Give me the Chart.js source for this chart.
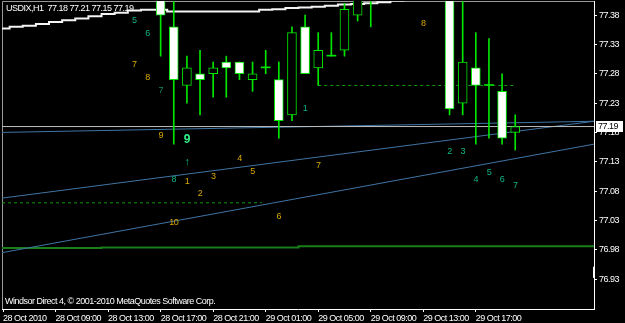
<!DOCTYPE html>
<html>
<head>
<meta charset="utf-8">
<script src="https://cdn.jsdelivr.net/npm/chart.js@4.4.0/dist/chart.umd.min.js"></script>
<style>
    html, body { margin: 0; padding: 0; background: #000; }
    canvas { display: block; }
</style>
</head>
<body>
<canvas id="PriceChart" width="625" height="323"></canvas>
<script>
// hourly bars, index 0 = 28 Oct 05:00 (bars above the window are left out)
var barIndex = [12, 13, 14, 15, 16, 17, 18, 19, 20, 21, 22, 23, 24, 25, 26, 27, 28, 34, 35, 36, 37, 38, 39];
var opens  = [77.42, 77.36, 77.26, 77.28, 77.28, 77.30, 77.30, 77.27, 77.29, 77.27, 77.21, 77.36, 77.29, 77.31, 77.32, 77.38, 77.41, 77.45, 77.23, 77.29, 77.26, 77.25, 77.18];
var highs  = [77.43, 77.42, 77.31, 77.32, 77.30, 77.31, 77.30, 77.30, 77.32, 77.30, 77.36, 77.38, 77.35, 77.35, 77.40, 77.42, 77.45, 77.46, 77.42, 77.35, 77.34, 77.28, 77.21];
var lows   = [77.31, 77.16, 77.23, 77.21, 77.24, 77.24, 77.27, 77.25, 77.28, 77.17, 77.20, 77.28, 77.26, 77.31, 77.31, 77.37, 77.36, 77.21, 77.21, 77.16, 77.17, 77.16, 77.15];
var closes = [77.38, 77.27, 77.29, 77.27, 77.29, 77.29, 77.28, 77.28, 77.29, 77.20, 77.35, 77.28, 77.32, 77.31, 77.39, 77.41, 77.44, 77.22, 77.30, 77.26, 77.26, 77.17, 77.19];

// time axis
var tickIndex  = [0, 4, 8, 12, 16, 20, 24, 28, 32, 36];
var tickLabels = ["28 Oct 2010", "28 Oct 09:00", "28 Oct 13:00", "28 Oct 17:00", "28 Oct 21:00",
                  "29 Oct 01:00", "29 Oct 05:00", "29 Oct 09:00", "29 Oct 13:00", "29 Oct 17:00"];
var priceTicks = [77.38, 77.33, 77.28, 77.23, 77.18, 77.13, 77.08, 77.03, 76.98, 76.93];

// white moving line at the top
var maIndex = [0, 1, 2, 3, 4, 5, 6, 7, 8, 9, 10, 11, 12, 13, 14, 15, 16, 17, 18, 19, 20, 21, 22, 23, 24, 25, 26, 27, 28, 29, 30, 31, 32, 33];
var maValue = [77.355, 77.357, 77.360, 77.362, 77.365, 77.368, 77.371, 77.374, 77.378, 77.382, 77.384, 77.388, 77.389, 77.389,
               77.386, 77.386, 77.386, 77.386, 77.386, 77.386, 77.386, 77.389, 77.390, 77.392, 77.393, 77.394, 77.396, 77.398,
               77.399, 77.400, 77.402, 77.405, 77.407, 77.409];

// dark green line at the bottom
var baseIndex = [-0.08, 7.5, 22.5, 37.5, 45];
var baseValue = [76.981, 76.983, 76.984, 76.986, 76.986];

// trend lines (start/end)
var trendLow  = [76.975, 77.160];
var trendMid  = [77.068, 77.199];
var trendTop  = [77.180, 77.199];

// dashed levels
var levelA = { from: 24, to: 39, price: 77.26 };
var levelB = { from: -0.08, to: 19.7, price: 77.06 };

var bidPrice = 77.19;
var symbolText = "USDIX,H1  77.18 77.21 77.15 77.19";
var footerText = "Windsor Direct 4, \u00a9 2001-2010 MetaQuotes Software Corp.";

// wave labels
var noteText  = ["5", "6", "7", "8", "7", "9", "9", "\u2191", "8", "1", "2", "3", "4", "5", "1", "7", "6", "10", "8", "2", "3", "4", "5", "6", "7"];
var noteBar   = [10, 11, 10, 11, 12, 12, 14, 14, 13, 14, 15, 16, 18, 19, 23, 24, 21, 13, 32, 34, 35, 36, 37, 38, 39];
var notePrice = [77.370, 77.349, 77.295, 77.274, 77.251, 77.174, 77.167, 77.130, 77.099, 77.096, 77.075, 77.104, 77.135,
                 77.114, 77.220, 77.124, 77.036, 77.026, 77.365, 77.148, 77.148, 77.099, 77.111, 77.099, 77.089];
var noteKind  = ["g", "g", "y", "y", "d", "y", "b", "a", "g", "y", "y", "y", "y", "y", "g", "y", "y", "y", "y", "g", "g", "g", "g", "g", "g"];

var FONT = "'Liberation Sans', Arial, sans-serif";
var LIME = "#00e600";
var X_MIN = -0.08, X_MAX = 45;

var noteColors = { y: "#d8a800", g: "#12b585", d: "#128a6a", b: "#2ef08a", a: "#12b585" };

function bodyData() {
    return barIndex.map(function (x, i) { return { x: x, y: [opens[i], closes[i]] }; });
}

function wickData() {
    return barIndex.map(function (x, i) { return { x: x, y: [lows[i], highs[i]] }; });
}

function lineDs(data, color, width, dash, stepped) {
    return {
        type: 'line',
        data: data,
        borderColor: color,
        borderWidth: width,
        borderDash: dash || [],
        pointRadius: 0,
        tension: 0,
        stepped: stepped || false,
        order: 5
    };
}

var overlay = {
    id: 'overlay',
    beforeDraw: function (chart) {
        // MT4 text is narrow, tighten the letters a bit
        chart.ctx.letterSpacing = "-0.5px";
    },
    beforeDatasetsDraw: function (chart) {
        var a = chart.chartArea, ctx = chart.ctx;
        ctx.save();
        ctx.strokeStyle = "#9a9a9a";
        ctx.lineWidth = 1;
        ctx.beginPath();
        ctx.moveTo(a.left + 0.5, a.bottom);
        ctx.lineTo(a.left + 0.5, a.top + 0.5);
        ctx.lineTo(a.right, a.top + 0.5);
        ctx.stroke();
        ctx.restore();
    },
    afterDatasetsDraw: function (chart) {
        var ctx = chart.ctx, xs = chart.scales.x, ys = chart.scales.y;
        ctx.save();
        ctx.textAlign = 'center';
        ctx.textBaseline = 'middle';
        noteText.forEach(function (t, i) {
            var k = noteKind[i];
            ctx.font = k === 'b' ? "bold 12px " + FONT : (k === 'a' ? "bold 11px " + FONT : "9px " + FONT);
            ctx.fillStyle = noteColors[k];
            ctx.fillText(t, xs.getPixelForValue(noteBar[i]), ys.getPixelForValue(notePrice[i]));
        });
        ctx.restore();
    },
    afterDraw: function (chart) {
        var ctx = chart.ctx, a = chart.chartArea, ys = chart.scales.y;
        ctx.save();
        ctx.font = "9px " + FONT;
        ctx.textBaseline = 'middle';
        ctx.textAlign = 'left';
        ctx.fillStyle = "#ffffff";
        ctx.fillText(symbolText, a.left + 4, a.top + 8);
        ctx.fillText(footerText, a.left + 3, a.bottom - 7);

        // bid price box on the axis
        var py = Math.round(ys.getPixelForValue(bidPrice));
        ctx.fillStyle = "#ffffff";
        ctx.fillRect(a.right + 2, py - 6, 27, 11);
        ctx.fillStyle = "#000000";
        ctx.fillText(bidPrice.toFixed(2), a.right + 4, py);

        // small marker on the axis
        ctx.fillStyle = "#ffffff";
        var m1 = ys.getPixelForValue(76.951), m2 = ys.getPixelForValue(76.932);
        ctx.fillRect(a.right - 1, m1, 2, m2 - m1);
        ctx.restore();
    }
};

var priceChart = new Chart(document.getElementById("PriceChart"), {
    type: 'bar',
    plugins: [overlay],
    data: {
        datasets: [{
            // candle bodies
            data: bodyData(),
            grouped: false,
            barThickness: 9,
            minBarLength: 1,
            borderSkipped: false,
            borderWidth: function (c) {
                var i = c.dataIndex;
                return opens[i] === closes[i] ? 0 : 1;
            },
            borderColor: LIME,
            backgroundColor: function (c) {
                var i = c.dataIndex;
                if (opens[i] === closes[i]) return LIME;
                return opens[i] > closes[i] ? "#ffffff" : "#000000";
            },
            order: 1
        }, {
            // wicks
            data: wickData(),
            grouped: false,
            barThickness: 1,
            borderWidth: 0,
            backgroundColor: LIME,
            order: 2
        },
            lineDs([{ x: X_MIN, y: bidPrice }, { x: X_MAX, y: bidPrice }], "#bdbdbd", 1),
            lineDs([{ x: X_MIN, y: trendLow[0] }, { x: X_MAX, y: trendLow[1] }], "#3f74a3", 1),
            lineDs([{ x: X_MIN, y: trendMid[0] }, { x: X_MAX, y: trendMid[1] }], "#3f74a3", 1),
            lineDs([{ x: X_MIN, y: trendTop[0] }, { x: X_MAX, y: trendTop[1] }], "#3f74a3", 1),
            lineDs([{ x: levelA.from, y: levelA.price }, { x: levelA.to, y: levelA.price }], "#119911", 1, [3, 3]),
            lineDs([{ x: levelB.from, y: levelB.price }, { x: levelB.to, y: levelB.price }], "#119911", 1, [3, 3]),
            lineDs(baseIndex.map(function (x, i) { return { x: x, y: baseValue[i] }; }), "#1a7f1a", 2, null, 'after'),
            lineDs(maIndex.map(function (x, i) { return { x: x - 0.5, y: maValue[i] }; }), "#f4f4f4", 2, null, 'after')
        ]
    },
    options: {
        responsive: false,
        animation: false,
        events: [],
        layout: { padding: { left: 2, top: 1, right: 0, bottom: 0 } },
        plugins: { legend: { display: false }, tooltip: { enabled: false } },
        scales: {
            x: {
                type: 'linear',
                offset: false,
                min: X_MIN,
                max: X_MAX,
                afterBuildTicks: function (s) {
                    s.ticks = tickIndex.map(function (v) { return { value: v }; });
                },
                afterFit: function (s) {
                    s.height = 14;
                    s.paddingLeft = 0; s.paddingRight = 0;
                },
                ticks: {
                    autoSkip: false,
                    maxRotation: 0,
                    align: 'start',
                    padding: 1,
                    color: "#ffffff",
                    font: { family: FONT, size: 9 },
                    callback: function (v) {
                        var k = tickIndex.indexOf(v);
                        return k < 0 ? "" : tickLabels[k];
                    }
                },
                grid: { offset: false, drawOnChartArea: false, drawTicks: true, tickLength: 3, color: "#ffffff" },
                border: { display: true, color: "#ffffff" }
            },
            y: {
                position: 'right',
                min: 76.879,
                max: 77.404,
                afterBuildTicks: function (s) {
                    s.ticks = priceTicks.map(function (v) { return { value: v }; });
                },
                afterFit: function (s) {
                    s.width = 31;
                    s.paddingTop = 0; s.paddingBottom = 0;
                },
                ticks: {
                    padding: 2,
                    color: "#ffffff",
                    font: { family: FONT, size: 9 },
                    callback: function (v) { return Number(v).toFixed(2); }
                },
                grid: { drawOnChartArea: false, drawTicks: true, tickLength: 3, color: "#ffffff" },
                border: { display: true, color: "#ffffff" }
            }
        }
    }
});
</script>
</body>
</html>
